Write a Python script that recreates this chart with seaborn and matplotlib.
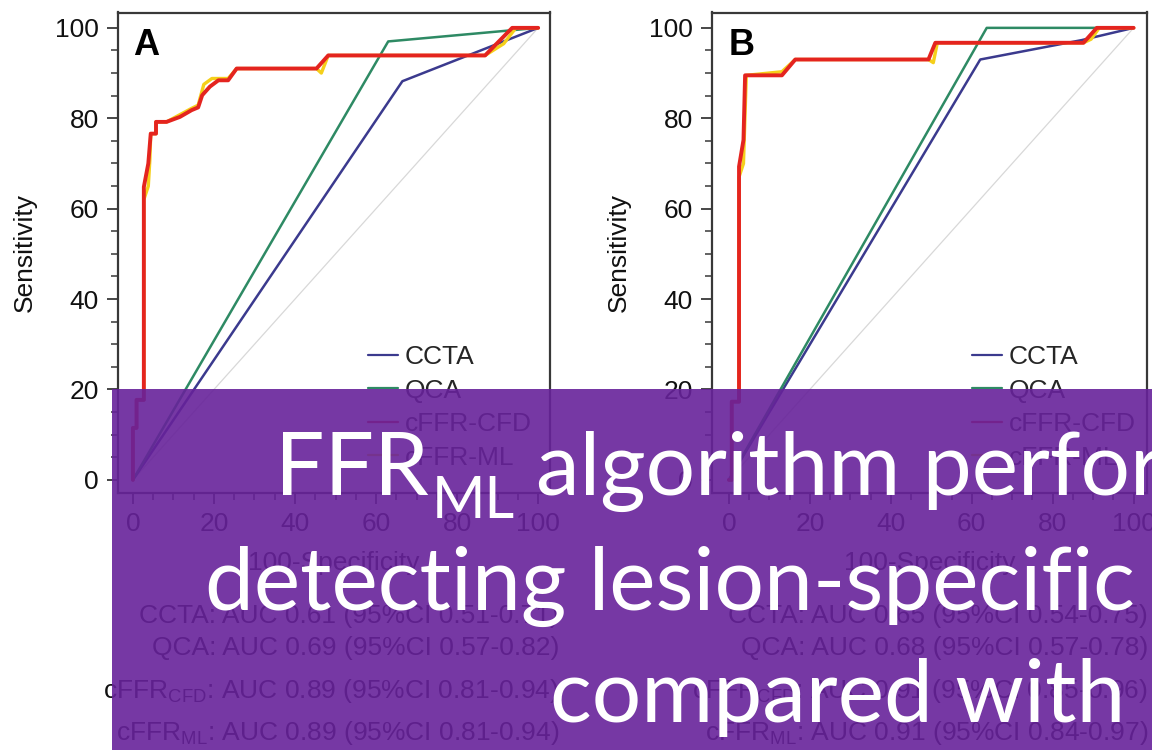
import matplotlib
matplotlib.use("Agg")
import matplotlib.pyplot as plt
import seaborn as sns
from matplotlib.lines import Line2D
from matplotlib.patches import Rectangle

# ---------------- data ----------------
methods = ["CCTA", "QCA", "cFFR-CFD", "cFFR-ML"]
panel_letters = ["A", "B"]
x_ticks = [0, 20, 40, 60, 80, 100]
y_ticks = [0, 20, 40, 60, 80, 100]
x_label = "100-Specificity"
y_label = "Sensitivity"

# Panel A  (x = 100-specificity, y = sensitivity)
a_ccta_x = [0, 66.5, 100]
a_ccta_y = [0, 88.2, 100]
a_qca_x = [0, 63, 100]
a_qca_y = [0, 97, 100]
a_cfd_x = [0, 0, 0.9, 0.9, 2.7, 2.7, 3.8, 4.4, 5.7, 5.7, 8.3, 11.6, 14.5, 16.1,
           17.1, 19, 21.1, 23.5, 25.6, 45.3, 48.2, 86.9, 93.6, 100]
a_cfd_y = [0, 11.5, 11.5, 17.7, 17.7, 64.8, 70, 76.6, 76.6, 79.2, 79.2, 80.3, 81.8, 82.4,
           85.1, 87, 88.4, 88.4, 91, 91, 93.9, 93.9, 100, 100]
a_ml_x = [0, 0, 0.9, 0.9, 2.7, 2.7, 3.8, 4.2, 4.4, 5.7, 5.7, 8.3, 11.6, 14.5, 16.1,
          17.5, 19.5, 23.5, 25.6, 45.3, 46.5, 48.2, 86.9, 91.5, 94.5, 100]
a_ml_y = [0, 11.5, 11.5, 17.7, 17.7, 62, 65, 71, 76.6, 76.6, 79.2, 79.2, 80.8, 82.2, 82.9,
          87.5, 88.8, 88.8, 91, 91, 90, 93.9, 93.9, 96.5, 100, 100]

# Panel B
b_ccta_x = [0, 62.1, 87.2, 100]
b_ccta_y = [0, 93, 97.3, 100]
b_qca_x = [0, 63.7, 100]
b_qca_y = [0, 100, 100]
b_cfd_x = [0, 0.7, 0.7, 2.5, 2.5, 3.6, 4.0, 13.1, 16.4, 49.3, 51, 87.6, 90.9, 100]
b_cfd_y = [0, 0, 17.3, 17.3, 69.3, 75.2, 89.5, 89.5, 93, 93, 96.7, 96.7, 100, 100]
b_ml_x = [0, 0.7, 0.7, 2.5, 2.5, 3.6, 4.3, 13.1, 16.4, 49.3, 50.5, 51.5, 87.6, 89.5, 91.5, 100]
b_ml_y = [0, 0, 17.3, 17.3, 67, 70, 89.5, 90.3, 93, 93, 92.3, 96.7, 96.7, 97.5, 100, 100]

diag_x = [0, 100]
diag_y = [0, 100]

auc_a = ["CCTA: AUC 0.61 (95%CI 0.51-0.71)",
         "QCA: AUC 0.69 (95%CI 0.57-0.82)",
         r"cFFR$_\mathregular{CFD}$: AUC 0.89 (95%CI 0.81-0.94)",
         r"cFFR$_\mathregular{ML}$: AUC 0.89 (95%CI 0.81-0.94)"]
auc_b = ["CCTA: AUC 0.65 (95%CI 0.54-0.75)",
         "QCA: AUC 0.68 (95%CI 0.57-0.78)",
         r"cFFR$_\mathregular{CFD}$: AUC 0.91 (95%CI 0.85-0.96)",
         r"cFFR$_\mathregular{ML}$: AUC 0.91 (95%CI 0.84-0.97)"]

title_main_1 = "FFR"
title_sub_1 = "ML"
title_rest_1 = "algorithm performance"
title_line_2 = "detecting lesion-specific"
title_line_3 = "compared with"

# ---------------- style ----------------
sns.set_theme(style="ticks")
plt.rcParams["font.family"] = ["Liberation Sans", "DejaVu Sans"]
plt.rcParams["mathtext.default"] = "regular"

colors = {"CCTA": "#3b3a8e", "QCA": "#2e8a64", "cFFR-CFD": "#e4241f", "cFFR-ML": "#f5cf1a"}
widths = {"CCTA": 1.8, "QCA": 1.8, "cFFR-CFD": 2.8, "cFFR-ML": 2.4}
spine_col = "#383838"
FS = 19

W, H = 1152, 750
fig = plt.figure(figsize=(W / 100, H / 100), dpi=100)
fig.patch.set_facecolor("white")


def fx(x):
    return x / W


def fy(y):
    return 1 - y / H


def px_axes(l, t, r, b):
    return [l / W, 1 - b / H, (r - l) / W, (b - t) / H]


axA = fig.add_axes(px_axes(117.5, 12.5, 549.5, 493))
axB = fig.add_axes(px_axes(711.5, 12.5, 1147, 493))

panels = [
    (axA, {"CCTA": (a_ccta_x, a_ccta_y), "QCA": (a_qca_x, a_qca_y),
           "cFFR-CFD": (a_cfd_x, a_cfd_y), "cFFR-ML": (a_ml_x, a_ml_y)},
     "A", (-3.8, 102.8), (0.58, 0.178)),
    (axB, {"CCTA": (b_ccta_x, b_ccta_y), "QCA": (b_qca_x, b_qca_y),
           "cFFR-CFD": (b_cfd_x, b_cfd_y), "cFFR-ML": (b_ml_x, b_ml_y)},
     "B", (-4.3, 103.3), (0.598, 0.178)),
]

draw_order = ["CCTA", "QCA", "cFFR-ML", "cFFR-CFD"]

for ax, curves, letter, xlim, leg_anchor in panels:
    ax.set_facecolor("white")
    sns.lineplot(x=diag_x, y=diag_y, ax=ax, color="#d8d8d8", linewidth=0.9,
                 estimator=None, sort=False, legend=False)
    for name in draw_order:
        xs, ys = curves[name]
        sns.lineplot(x=xs, y=ys, ax=ax, color=colors[name], linewidth=widths[name],
                     estimator=None, sort=False, legend=False)
    ax.set_xlim(*xlim)
    ax.set_ylim(-2.9, 103.4)
    ax.set_xticks(x_ticks)
    ax.set_yticks(y_ticks)
    ax.set_xticks([v for v in range(0, 101, 5) if v % 20], minor=True)
    ax.set_yticks([v for v in range(0, 101, 5) if v % 20], minor=True)
    ax.tick_params(which="major", direction="out", length=8, width=1.3, color=spine_col,
                   labelsize=FS, pad=5.5, labelcolor="#111111")
    ax.tick_params(which="minor", direction="out", length=5, width=1.1, color=spine_col)
    for sp in ax.spines.values():
        sp.set_visible(True)
        sp.set_color(spine_col)
        sp.set_linewidth(1.6)
    ax.set_xlabel(x_label, fontsize=FS, color="#111111")
    ax.set_ylabel(y_label, fontsize=FS, color="#111111")
    ax.xaxis.set_label_coords(0.5, -0.121)
    ax.yaxis.set_label_coords(-0.186, 0.5)
    ax.text(0, 100, letter, fontsize=26, fontweight="bold", ha="left", va="top", color="black")
    handles = [Line2D([], [], color=colors[m], lw=1.6) for m in methods]
    ax.legend(handles, methods, loc="center left", bbox_to_anchor=leg_anchor, frameon=False,
              fontsize=FS, handlelength=1.15, handletextpad=0.25, labelspacing=0.36,
              borderpad=0, borderaxespad=0)

# AUC summary lines below each panel (right aligned)
baselines = [623, 655, 698, 740]
for s, yb in zip(auc_a, baselines):
    fig.text(fx(559), fy(yb), s, ha="right", va="baseline", fontsize=FS, color="#111111")
for s, yb in zip(auc_b, baselines):
    fig.text(fx(1148), fy(yb), s, ha="right", va="baseline", fontsize=FS, color="#111111")

# translucent purple banner
fig.add_artist(Rectangle((fx(112), 0), 1 - fx(112), fy(389), transform=fig.transFigure,
                         facecolor="#67229a", edgecolor="none", alpha=0.9, zorder=10))

# banner text (white)
renderer = fig.canvas.get_renderer()
tf = dict(color="white", family=["Lato", "DejaVu Sans"], zorder=11, va="baseline")
probe = fig.text(0, 0, title_line_2, fontsize=60, **tf)
w60 = probe.get_window_extent(renderer).width
probe.remove()
tfs = 60 * 932 / w60

t1 = fig.text(fx(275), fy(495), title_main_1, fontsize=tfs, ha="left", **tf)
e1 = t1.get_window_extent(renderer)
t1s = fig.text(fx(e1.x1 + 3), fy(518), title_sub_1, fontsize=tfs * 0.66, ha="left", **tf)
e1s = t1s.get_window_extent(renderer)
fig.text(fx(e1s.x1 + 0.24 * tfs * 100 / 72), fy(495), title_rest_1, fontsize=tfs, ha="left", **tf)
fig.text(fx(205), fy(610), title_line_2, fontsize=tfs, ha="left", **tf)
fig.text(fx(838), fy(722), title_line_3, fontsize=tfs, ha="center", **tf)

fig.savefig("out.png", dpi=100, facecolor="white")
